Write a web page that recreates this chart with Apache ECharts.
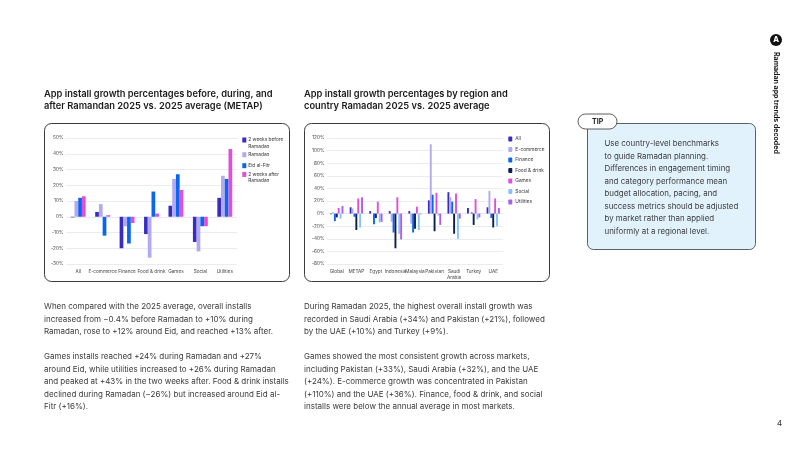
<!DOCTYPE html>
<html><head><meta charset="utf-8">
<style>html,body{margin:0;padding:0;background:#fff}#c{width:800px;height:450px}</style>
<script src="https://cdn.jsdelivr.net/npm/echarts@6/dist/echarts.min.js"></script>
</head><body><div id="c"></div>
<script>
const FONT = 'Inter';
const metapCategories = ['All','E-commerce','Finance','Food & drink','Games','Social','Utilities'];
const metapNames = ['2 weeks before\nRamadan','Ramadan','Eid al-Fitr','2 weeks after\nRamadan'];
const metapBefore = [-0.4,3,-20,-11,7,-16,12];
const metapRamadan = [10,8,-6,-26,24,-22,26];
const metapEid = [12,-12,-17,16,27,-6,24];
const metapAfter = [13,1,-4,2,17,-6,43];
const metapColors = ['#3b2cc0','#b3a9ef','#0a66f2','#e14fd6'];

const regionCategories = ['Global','METAP','Egypt','Indonesia','Malaysia','Pakistan','Saudi\nArabia','Turkey','UAE'];
const regionNames = ['All','E-commerce','Finance','Food & drink','Games','Social','Utilities'];
const regionAll = [-1,10,4,4,4,21,34,9,10];
const regionEcommerce = [2,8,0,-13,-16,110,26,0,36];
const regionFinance = [-12,-5,-17,-30,-30,30,19,2,-7];
const regionFood = [-6,-26,-7,-55,-24,-28,-32,-18,-22];
const regionGames = [9,24,19,26,11,33,32,23,24];
const regionSocial = [-8,-22,-14,-32,-26,-3,-40,-9,-20];
const regionUtilities = [12,26,-13,-41,-1,-18,-8,-6,9];
const regionColors = ['#3b2cc0','#b3a9ef','#0a66f2','#0b1f4f','#e14fd6','#84c2fa','#a95fe8'];

const titleLeft = ['App install growth percentages before, during, and','after Ramandan 2025 vs. 2025 average (METAP)'];
const titleRight = ['App install growth percentages by region and','country Ramadan 2025 vs. 2025 average'];
const bodyLeft = [
 ['When compared with the 2025 average, overall installs',306.7],
 ['increased from −0.4% before Ramadan to +10% during',319.2],
 ['Ramadan, rose to +12% around Eid, and reached +13% after.',331.7],
 ['Games installs reached +24% during Ramadan and +27%',356.7],
 ['around Eid, while utilities increased to +26% during Ramadan',369.2],
 ['and peaked at +43% in the two weeks after. Food & drink installs',381.7],
 ['declined during Ramadan (−26%) but increased around Eid al-',394.2],
 ['Fitr (+16%).',406.7]];
const bodyRight = [
 ['During Ramadan 2025, the highest overall install growth was',306.7],
 ['recorded in Saudi Arabia (+34%) and Pakistan (+21%), followed',319.2],
 ['by the UAE (+10%) and Turkey (+9%).',331.7],
 ['Games showed the most consistent growth across markets,',356.7],
 ['including Pakistan (+33%), Saudi Arabia (+32%), and the UAE',369.2],
 ['(+24%). E-commerce growth was concentrated in Pakistan',381.7],
 ['(+110%) and the UAE (+36%). Finance, food & drink, and social',394.2],
 ['installs were below the annual average in most markets.',406.7]];
const tipLines = ['Use country-level benchmarks','to guide Ramadan planning.','Differences in engagement timing','and category performance mean','budget allocation, pacing, and','success metrics should be adjusted','by market rather than applied','uniformly at a regional level.'];

function txt(x,y,text,size,weight,color,extra){
  return Object.assign({type:'text',x,y,silent:true,z:5,style:{text,fontFamily:FONT,fontSize:size,fontWeight:weight,fill:color,verticalAlign:'middle'}},extra||{});
}
const g = [];
g.push({type:'rect',z:0,silent:true,shape:{x:44.5,y:123.5,width:245,height:158,r:7},style:{fill:'#fff',stroke:'#3a3a3a',lineWidth:1}});
g.push({type:'rect',z:0,silent:true,shape:{x:304.5,y:123.5,width:245,height:158,r:7},style:{fill:'#fff',stroke:'#3a3a3a',lineWidth:1}});
g.push({type:'rect',z:0,silent:true,shape:{x:587.5,y:123.5,width:168,height:126,r:6},style:{fill:'#e1f2fd',stroke:'#5a6068',lineWidth:1}});
g.push({type:'rect',z:1,silent:true,shape:{x:578,y:114,width:39,height:15,r:7.5},style:{fill:'#fff',stroke:'#333',lineWidth:0.8}});
g.push(txt(592,121.5,'TIP',7,700,'#222'));
titleLeft.forEach((t,i)=>g.push(txt(44,94+i*12.6,t,9.3,600,'#1a1a1a')));
titleRight.forEach((t,i)=>g.push(txt(304,94+i*12.6,t,9.3,600,'#1a1a1a')));
bodyLeft.forEach(l=>g.push(txt(44,l[1],l[0],8,400,'#3a3a3a')));
bodyRight.forEach(l=>g.push(txt(304,l[1],l[0],8,400,'#3a3a3a')));
tipLines.forEach((t,i)=>g.push(txt(604.5,144+i*12.5,t,7.9,400,'#3a3a3a')));
g.push({type:'circle',silent:true,z:3,shape:{cx:776,cy:40,r:6},style:{fill:'#111'}});
g.push(txt(773.2,40,'A',7.5,800,'#fff'));
g.push(txt(776,52,'Ramadan app trends decoded',7,700,'#1a1a1a',{rotation:-Math.PI/2}));
g.push(txt(777,424,'4',8,400,'#333'));

function axes(gridIndex,min,max,interval,cats,fs){
  return {
    x:{type:'category',gridIndex,data:cats,axisLine:{show:false},axisTick:{show:false},
       axisLabel:{fontFamily:FONT,fontSize:fs,color:'#444',interval:0,margin:4,lineHeight:6.5,hideOverlap:false}},
    y:{type:'value',gridIndex,min,max,interval,axisLine:{show:false},axisTick:{show:false},
       splitLine:{lineStyle:{color:'#e9ecf5',width:1}},
       axisLabel:{fontFamily:FONT,fontSize:fs,color:'#444',margin:2.5,formatter:'{value}%'}}
  };
}
const a1 = axes(0,-30,50,10,metapCategories,4.7), a2 = axes(1,-80,120,20,regionCategories,4.7);
const metapData = [metapBefore,metapRamadan,metapEid,metapAfter];
const regionData = [regionAll,regionEcommerce,regionFinance,regionFood,regionGames,regionSocial,regionUtilities];
const series = [];
metapNames.forEach((n,i)=>series.push({type:'bar',name:n,xAxisIndex:0,yAxisIndex:0,data:metapData[i],barGap:'0%',barCategoryGap:'39%',itemStyle:{color:metapColors[i]},silent:true}));
regionNames.forEach((n,i)=>series.push({type:'bar',name:n,xAxisIndex:1,yAxisIndex:1,data:regionData[i],barGap:'0%',barCategoryGap:'32%',itemStyle:{color:regionColors[i]},silent:true}));

const chart = echarts.init(document.getElementById('c'),null,{renderer:'canvas'});
chart.setOption({
  animation:false,
  textStyle:{fontFamily:FONT},
  grid:[{left:66,top:138,width:171,height:126},{left:327,top:138,width:176,height:126}],
  xAxis:[a1.x,a2.x], yAxis:[a1.y,a2.y],
  legend:[
   {left:242.3,top:136.8,padding:0,orient:'vertical',itemWidth:4,itemHeight:11,itemGap:0,selectedMode:false,
    textStyle:{fontFamily:FONT,fontSize:4.8,color:'#333',lineHeight:6.2,padding:[0,0,0,-3]},
    data:metapNames.map(n=>({name:n,icon:n.includes('\n')?'path://M0 0h4v5H0z M0 11h0':'path://M0 3h4v5H0z M0 0h0 M0 11h0'}))},
   {left:508.3,top:136,padding:0,orient:'vertical',itemWidth:4,itemHeight:5,itemGap:4.5,selectedMode:false,
    textStyle:{fontFamily:FONT,fontSize:4.8,lineHeight:6,color:'#333',padding:[0,0,0,-2]},
    data:regionNames}
  ],
  series,
  graphic:{elements:g}
});
</script></body></html>
